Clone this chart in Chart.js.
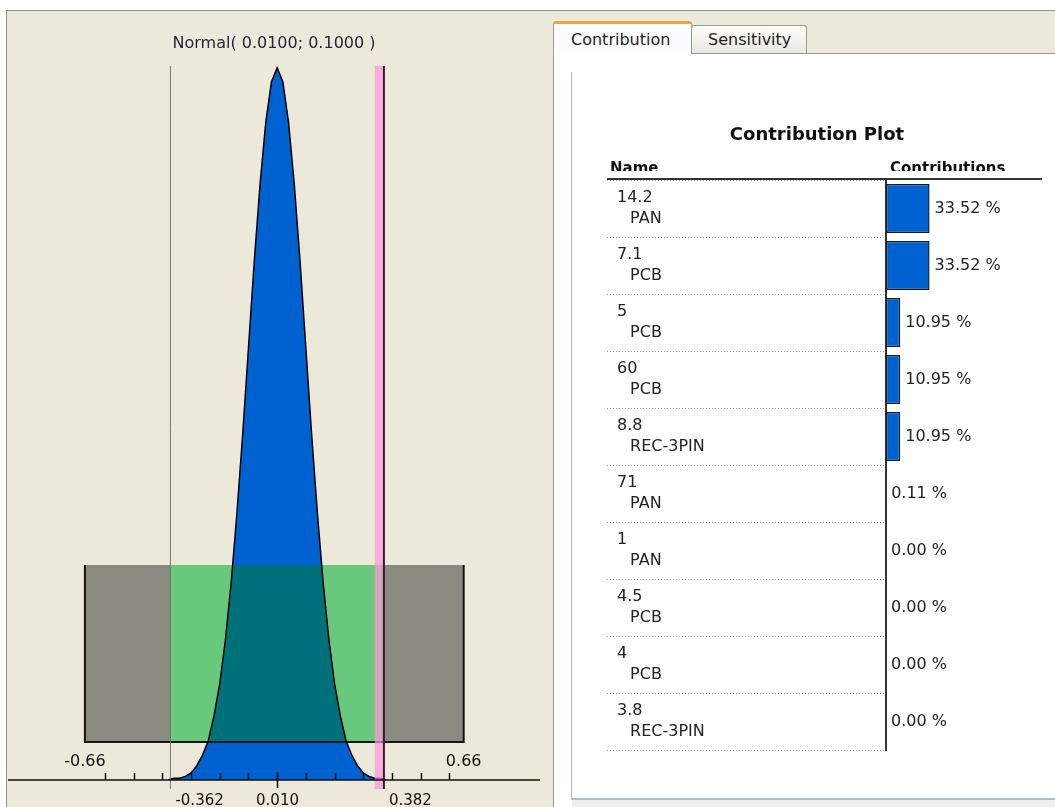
<!DOCTYPE html>
<html>
<head>
<meta charset="utf-8">
<title>Contribution Plot</title>
<script src="https://cdn.jsdelivr.net/npm/chart.js@4.4.1/dist/chart.umd.min.js"></script>
<style>
  html, body { margin: 0; padding: 0; }
  body { width: 1055px; height: 807px; position: relative; overflow: hidden; background: #fff; font-family: 'DejaVu Sans', sans-serif; }
  .panel { position: absolute; box-sizing: border-box; }
  #left-panel { left: 6px; top: 10px; width: 544px; height: 797px; background: #ece8da; border-top: 1px solid #8d8d8d; border-left: 1px solid #8d8d8d; }
  #right-panel { left: 550px; top: 10px; width: 505px; height: 797px; background: #ece8da; border-top: 1px solid #8d8d8d; }
  #content { left: 553px; top: 53px; width: 502px; height: 754px; background: #fff; border-left: 1px solid #919b9c; border-top: 1px solid #919b9c; }
  #inner { left: 571px; top: 72px; width: 484px; height: 728px; background: #fff; border-left: 1px solid #a9bccd; border-bottom: 2px solid #a9bccd; }
  #footer { left: 572px; top: 800px; width: 483px; height: 7px; background: #eef0ec; }
  .tab { position: absolute; box-sizing: border-box; font-size: 16px; line-height: 19px; color: #1e1e1e; border: 1px solid #919b9c; border-bottom: none; border-radius: 3px 3px 0 0; }
  #tab-contribution { left: 553px; top: 21px; width: 139px; height: 33px; background: #fcfcfe; border-top: 3px solid #f2a533; padding: 6px 0 0 17px; z-index: 2; }
  #tab-sensitivity { left: 691px; top: 25px; width: 116px; height: 28px; background: linear-gradient(#fdfdfb, #e9e8e0); padding: 4px 0 0 16px; }
  canvas { position: absolute; }
  #distributionChart { left: 0; top: 0; }
  #contributionChart { left: 572px; top: 73px; }
</style>
</head>
<body>
<div class="panel" id="left-panel"></div>
<div class="panel" id="right-panel"></div>
<div class="panel" id="content"></div>
<div class="panel" id="inner"></div>
<div class="panel" id="footer"></div>
<div class="tab" id="tab-contribution">Contribution</div>
<div class="tab" id="tab-sensitivity">Sensitivity</div>
<canvas id="distributionChart" width="550" height="807"></canvas>
<canvas id="contributionChart" width="483" height="724"></canvas>

<script>
// ---- Du lieu phan phoi (trai) ----
const distTitle = 'Normal( 0.0100; 0.1000 )';
const curveX = [-0.37, -0.35, -0.33, -0.31, -0.29, -0.27, -0.25, -0.23, -0.21, -0.19,
                -0.17, -0.15, -0.13, -0.11, -0.09, -0.07, -0.05, -0.03, -0.01, 0.01,
                0.03, 0.05, 0.07, 0.09, 0.11, 0.13, 0.15, 0.17, 0.19, 0.21,
                0.23, 0.25, 0.27, 0.29, 0.31, 0.33, 0.35, 0.37, 0.39];
const curveDensity = [0.00, 0.01, 0.01, 0.02, 0.04, 0.08, 0.14, 0.22, 0.36, 0.54,
                      0.79, 1.11, 1.50, 1.94, 2.42, 2.90, 3.33, 3.68, 3.91, 3.99,
                      3.91, 3.68, 3.33, 2.90, 2.42, 1.94, 1.50, 1.11, 0.79, 0.54,
                      0.36, 0.22, 0.14, 0.08, 0.04, 0.02, 0.01, 0.01, 0.00];
const outerRange = [-0.66, 0.66];
const innerRange = [-0.362, 0.382];
const boxDensity = [0.213, 1.204];
const meanValue = 0.010;
const markerValue = 0.364;
const axisTicks = [-0.59, -0.49, -0.39, -0.29, -0.19, -0.09, 0.01, 0.11, 0.21, 0.31, 0.41, 0.51, 0.61];
const outerLabels = ['-0.66', '0.66'];
const innerLabels = ['-0.362', '0.382'];
const meanLabel = '0.010';

// ---- Du lieu dong gop (phai) ----
const plotTitle = 'Contribution Plot';
const partValues = ['14.2', '7.1', '5', '60', '8.8', '71', '1', '4.5', '4', '3.8'];
const partTypes = ['PAN', 'PCB', 'PCB', 'PCB', 'REC-3PIN', 'PAN', 'PAN', 'PCB', 'PCB', 'REC-3PIN'];
const contributions = [33.52, 33.52, 10.95, 10.95, 10.95, 0.11, 0.00, 0.00, 0.00, 0.00];

document.addEventListener('DOMContentLoaded', function() {
    const FONT = '"DejaVu Sans", sans-serif';

    // ===== Bieu do phan phoi =====
    const yTop = 4.0;       // dinh vung ve
    const yBelow = -0.05;   // cac duong doc keo xuong duoi truc
    const curvePoints = curveX.map((x, i) => ({ x: x, y: curveDensity[i] }));

    // To mau xanh la dam o phan giao giua duong cong va hop xanh la
    const overlapPlugin = {
        id: 'overlap',
        afterDatasetDraw(chart, args) {
            if (chart.data.datasets[args.index].label !== 'Normal') return;
            const { ctx, scales: { x, y } } = chart;
            const left = x.getPixelForValue(innerRange[0]);
            const right = x.getPixelForValue(innerRange[1]);
            const top = y.getPixelForValue(boxDensity[1]);
            const bottom = y.getPixelForValue(boxDensity[0]);
            const pts = args.meta.data;
            const base = y.getPixelForValue(0);
            ctx.save();
            ctx.beginPath();
            ctx.rect(left, top, right - left, bottom - top);
            ctx.clip();
            ctx.beginPath();
            ctx.moveTo(pts[0].x, base);
            pts.forEach(p => ctx.lineTo(p.x, p.y));
            ctx.lineTo(pts[pts.length - 1].x, base);
            ctx.closePath();
            ctx.fillStyle = '#00717a';
            ctx.fill();
            ctx.restore();
        }
    };

    // Truc hoanh, vach chia va nhan
    const axisPlugin = {
        id: 'distributionAxis',
        afterDraw(chart) {
            const { ctx, chartArea, scales: { x, y } } = chart;
            const base = y.getPixelForValue(0);
            ctx.save();
            ctx.strokeStyle = '#111';
            ctx.lineWidth = 1.5;
            ctx.beginPath();
            ctx.moveTo(chartArea.left, base);
            ctx.lineTo(chartArea.right, base);
            ctx.stroke();
            axisTicks.forEach(v => {
                const px = Math.round(x.getPixelForValue(v)) + 0.5;
                ctx.beginPath();
                ctx.moveTo(px, base - 7);
                ctx.lineTo(px, base);
                ctx.stroke();
            });
            const m = Math.round(x.getPixelForValue(meanValue)) + 0.5;
            ctx.beginPath();
            ctx.moveTo(m, base - 8);
            ctx.lineTo(m, base + 8);
            ctx.stroke();

            ctx.fillStyle = '#111';
            ctx.textBaseline = 'middle';
            ctx.textAlign = 'center';
            ctx.font = '16px ' + FONT;
            outerRange.forEach((v, i) => ctx.fillText(outerLabels[i], x.getPixelForValue(v), base - 18));
            ctx.font = '15px ' + FONT;
            ctx.fillText(meanLabel, m, base + 21);
            ctx.textAlign = 'left';
            innerRange.forEach((v, i) => ctx.fillText(innerLabels[i], x.getPixelForValue(v) + 5, base + 21));
            ctx.restore();
        }
    };

    const noStroke = { borderColor: 'transparent', borderWidth: 0 };

    new Chart(document.getElementById('distributionChart'), {
        type: 'line',
        data: {
            datasets: [
                { label: 'upper', data: [{ x: innerRange[1], y: yBelow }, { x: innerRange[1], y: yTop }],
                  borderColor: '#3a1838', borderWidth: 2, clip: false, order: 0 },
                { label: 'lower', data: [{ x: innerRange[0], y: yBelow }, { x: innerRange[0], y: yTop }],
                  borderColor: '#77746c', borderWidth: 1, clip: false, order: 1 },
                { label: 'marker', data: [{ x: markerValue, y: yBelow }, { x: markerValue, y: yTop }],
                  borderColor: 'rgba(255, 150, 215, 0.72)', borderWidth: 8, borderCapStyle: 'butt', clip: false, order: 2 },
                { label: 'outline', data: curvePoints, borderColor: '#000', borderWidth: 1.5, fill: false, order: 3 },
                { label: 'boxEdge', data: [
                      { x: outerRange[0], y: boxDensity[1] }, { x: outerRange[0], y: boxDensity[0] },
                      { x: outerRange[1], y: boxDensity[0] }, { x: outerRange[1], y: boxDensity[1] }],
                  borderColor: '#151515', borderWidth: 2, fill: false, order: 4 },
                Object.assign({ label: 'Normal', data: curvePoints, backgroundColor: '#0061d1', fill: 'origin', order: 5 }, noStroke),
                Object.assign({ label: 'inner', data: [{ x: innerRange[0], y: boxDensity[1] }, { x: innerRange[1], y: boxDensity[1] }],
                  backgroundColor: '#68c97d', fill: { value: boxDensity[0] }, order: 6 }, noStroke),
                Object.assign({ label: 'outer', data: [{ x: outerRange[0], y: boxDensity[1] }, { x: outerRange[1], y: boxDensity[1] }],
                  backgroundColor: '#8b8a81', fill: { value: boxDensity[0] }, order: 7 }, noStroke)
            ]
        },
        options: {
            responsive: false,
            animation: false,
            events: [],
            layout: { padding: { left: 8, right: 10, top: 0, bottom: 27 } },
            elements: { point: { radius: 0 }, line: { tension: 0 } },
            scales: {
                x: { type: 'linear', min: -0.928, max: 0.926, display: false },
                y: { type: 'linear', min: 0, max: yTop, display: false }
            },
            plugins: {
                legend: { display: false },
                tooltip: { enabled: false },
                title: {
                    display: true,
                    text: distTitle,
                    color: '#26263a',
                    font: { family: FONT, size: 16, weight: 'normal', lineHeight: 1.2 },
                    padding: { top: 34, bottom: 12.8 }
                }
            }
        },
        plugins: [overlapPlugin, axisPlugin]
    });

    // ===== Bieu do dong gop =====
    const rowLabels = partValues.map((v, i) => [v, '\u2002 ' + partTypes[i]]);

    const valueLabelPlugin = {
        id: 'valueLabels',
        afterDatasetsDraw(chart) {
            const ctx = chart.ctx;
            const meta = chart.getDatasetMeta(0);
            ctx.save();
            ctx.font = '16px ' + FONT;
            ctx.fillStyle = '#222';
            ctx.textBaseline = 'middle';
            ctx.textAlign = 'left';
            meta.data.forEach((bar, i) => {
                ctx.fillText(contributions[i].toFixed(2) + ' %', bar.x + 5, bar.y);
            });
            ctx.restore();
        }
    };

    const headerPlugin = {
        id: 'tableHeader',
        afterDraw(chart) {
            const { ctx, chartArea } = chart;
            const yAxis = chart.scales.y;
            ctx.save();
            ctx.fillStyle = '#111';
            ctx.textAlign = 'center';
            ctx.textBaseline = 'middle';
            ctx.font = 'bold 18px ' + FONT;
            ctx.fillText(plotTitle, 245, 62);

            // tieu de cot bi cat phan duoi nhu ban goc
            ctx.beginPath();
            ctx.rect(0, 0, chart.width, chartArea.top - 9);
            ctx.clip();
            ctx.font = 'bold 15px ' + FONT;
            ctx.textAlign = 'left';
            ctx.textBaseline = 'alphabetic';
            ctx.fillText('Name', yAxis.left - 7, chartArea.top - 7);
            ctx.fillText('Contributions', chartArea.left + 4, chartArea.top - 7);
            ctx.restore();

            ctx.save();
            ctx.strokeStyle = '#333';
            ctx.lineWidth = 2;
            ctx.beginPath();
            ctx.moveTo(yAxis.left - 10, chartArea.top - 1);
            ctx.lineTo(chartArea.right, chartArea.top - 1);
            ctx.stroke();
            ctx.restore();
        }
    };

    new Chart(document.getElementById('contributionChart'), {
        type: 'bar',
        data: {
            labels: rowLabels,
            datasets: [{
                label: 'Contributions',
                data: contributions,
                backgroundColor: '#0061d1',
                borderColor: '#0d1a33',
                borderWidth: 1.5,
                borderSkipped: false,
                categoryPercentage: 1,
                barPercentage: 0.86
            }]
        },
        options: {
            indexAxis: 'y',
            responsive: false,
            animation: false,
            events: [],
            layout: { padding: { left: 45, right: 13, top: 107, bottom: 47 } },
            scales: {
                x: { type: 'linear', min: 0, max: 120, display: false },
                y: {
                    type: 'category',
                    grid: {
                        display: true, drawOnChartArea: false, drawTicks: true, offset: true,
                        tickLength: 279, tickColor: '#9c9c9c', tickWidth: 1, tickBorderDash: [1, 2]
                    },
                    border: { display: true, color: '#333', width: 2 },
                    ticks: {
                        crossAlign: 'far',
                        autoSkip: false,
                        padding: 0,
                        color: '#222',
                        font: { family: FONT, size: 16, lineHeight: 1.3125 }
                    },
                    afterFit(scale) { scale.width = 269; }
                }
            },
            plugins: {
                legend: { display: false },
                tooltip: { enabled: false }
            }
        },
        plugins: [valueLabelPlugin, headerPlugin]
    });
});
</script>
</body>
</html>
